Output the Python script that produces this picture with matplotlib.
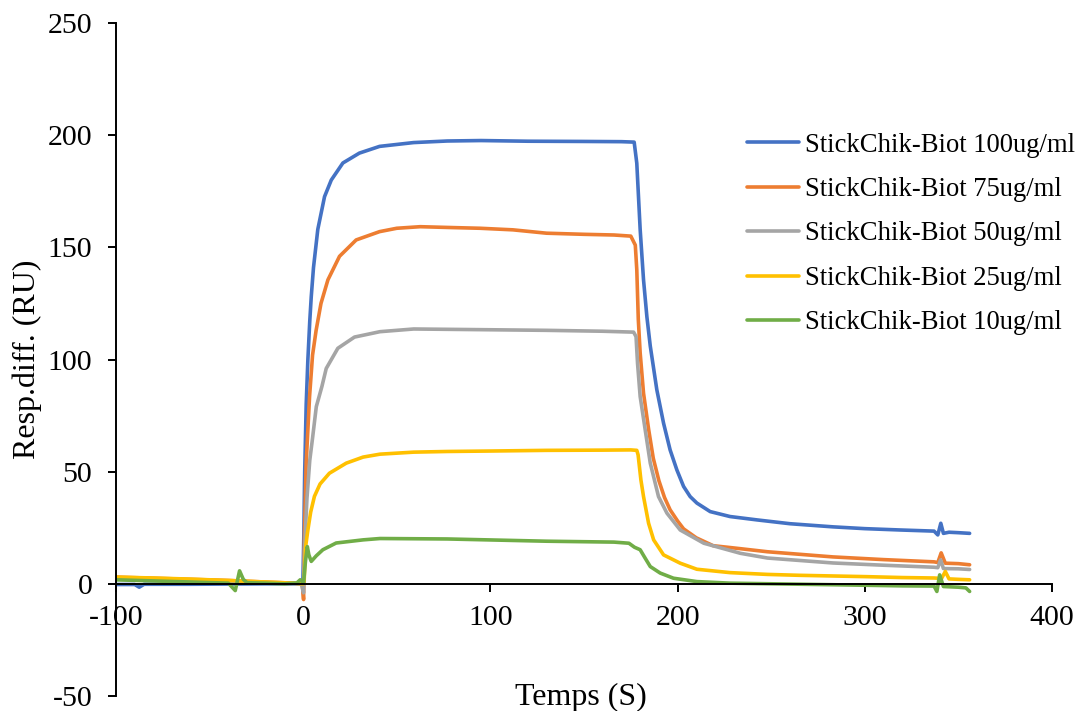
import matplotlib
matplotlib.use("Agg")
import matplotlib.pyplot as plt

# ---------------- data ----------------
labels = ["StickChik-Biot 100ug/ml", "StickChik-Biot 75ug/ml", "StickChik-Biot 50ug/ml",
          "StickChik-Biot 25ug/ml", "StickChik-Biot 10ug/ml"]

t_100 = [-100, -90, -87.6, -85, -60, -40, -20, -5, -0.2, 0.3, 0.8, 1.6, 2.5, 3.5, 4.3, 5.5, 7.8,
         11.4, 15, 21.2, 30, 40.8, 59, 77, 95, 120, 150, 170, 176.8, 178.2, 180, 181.8, 183.6,
         185.4, 188.9, 192.5, 196, 199.6, 203.2, 206.7, 210.3, 217.4, 228, 242.4, 260, 283, 300,
         319, 337, 339, 340.6, 342, 345, 350, 356]
y_100 = [-0.3, -0.3, -1.5, -0.2, -0.2, -0.1, 0, 0, 0, 20, 50, 80, 100, 117, 128, 141, 158,
         172.6, 180, 187.6, 192, 195, 196.7, 197.4, 197.6, 197.3, 197.2, 197.1, 196.9, 187.5,
         158, 135.5, 119, 106, 86.5, 71.6, 59.7, 50.8, 43.4, 38.9, 36, 32.2, 30, 28.5, 26.8, 25.4,
         24.6, 24, 23.5, 21.8, 27, 22.5, 23, 22.8, 22.5]

t_75 = [-100, -80, -60, -40, -20, -5, -0.5, 0.2, 0.7, 1.6, 3.4, 5, 6.9, 9.5, 13.2, 19.4, 28.3,
        40.8, 50, 62.5, 80, 94.5, 112, 130, 150, 166, 175, 177.4, 178.2, 179, 180, 181.8, 184.5,
        187, 190, 193, 196, 200, 203.2, 210, 219, 230, 248, 283, 310, 337, 339, 340.8, 343, 350,
        356]
y_75 = [3, 2.5, 2, 1.5, 0.8, 0.3, 0, -7, 24, 54, 83.5, 102, 113, 125, 135.5, 146, 153.3, 157,
        158.5, 159.2, 158.8, 158.5, 157.8, 156.3, 155.8, 155.5, 155, 151, 140, 118, 103, 85, 69,
        56, 46, 38.5, 33, 28, 24.5, 20.5, 17, 16, 14.3, 12, 10.8, 9.8, 9.5, 13.8, 9.2, 9, 8.5]

t_50 = [-100, -60, -20, -1, 0.2, 0.7, 2, 3.5, 5, 7, 10, 12.3, 18.5, 27.4, 41, 59, 95, 130, 160,
        176.5, 177.8, 178.6, 180, 182.7, 185.4, 189.8, 194.3, 201.4, 214, 233.6, 248, 283, 310,
        337, 339, 340.5, 342, 350, 356]
y_50 = [2, 1.5, 0.5, 0, -4, 15, 38, 55, 65, 79, 88, 96, 105, 110, 112.4, 113.6, 113.3, 113,
        112.6, 112.2, 110.2, 98.3, 83.5, 68.6, 53.8, 38.9, 31.5, 24, 18.1, 13.6, 11.5, 9.3, 8.3,
        7.4, 7.2, 10.7, 6.8, 6.7, 6.4]

t_25 = [-100, -80, -60, -40, -20, -5, 0, 0.5, 1.2, 2.5, 4, 6, 9, 14, 23, 32, 41, 59, 77, 100,
        130, 160, 175, 178.2, 178.9, 180.4, 181.8, 184.5, 187.2, 192.5, 201.4, 210.3, 228, 248,
        265, 301, 320, 337, 341, 343, 345, 350, 356]
y_25 = [3, 2.6, 2.1, 1.5, 0.8, 0.3, 0, 1, 16, 24, 32, 39, 44.5, 49.3, 53.8, 56.5, 57.8, 58.7,
        59, 59.2, 59.5, 59.6, 59.7, 59.5, 57.5, 46.3, 38.9, 27, 19.6, 12.9, 9.2, 6.5, 5.0, 4.2,
        3.8, 3.2, 2.8, 2.6, 2.4, 5.5, 2.2, 2, 1.8]

t_10 = [-100, -80, -60, -40, -36.3, -34, -32, -30, -20, -10, -3.4, -1.6, 0.2, 1.2, 2.2, 3, 4.3,
        7, 10.5, 17.6, 32, 41, 77, 130, 166, 174, 177, 180, 182.7, 185.4, 190.7, 197.8, 210.3,
        228, 283, 320, 337, 338.5, 340, 342, 350, 354, 356]
y_10 = [1.8, 1.3, 0.8, 0.3, -3, 5.8, 2, 0.5, 0.3, 0, 0.4, 1.8, 0.4, 10, 16.6, 13, 10, 12.5,
        15.2, 18.2, 19.6, 20.2, 20, 19, 18.6, 18.1, 16.3, 15.2, 11.4, 7.7, 4.8, 2.5, 1.0, 0.3,
        -0.4, -0.9, -1.0, -3.4, 4, -1.2, -1.5, -1.8, -3.4]

x_ticks = [-100, 0, 100, 200, 300, 400]
y_ticks = [-50, 0, 50, 100, 150, 200, 250]
colors = ["#4472C4", "#ED7D31", "#A5A5A5", "#FFC000", "#70AD47"]

# ---------------- figure ----------------
plt.rcParams['font.family'] = ['Liberation Serif', 'DejaVu Serif']
plt.rcParams['axes.unicode_minus'] = False

fig = plt.figure(figsize=(10.82, 7.11), dpi=100)
ax = fig.add_axes([116 / 1082, 15 / 711, 936 / 1082, 673 / 711])

series = [(t_100, y_100), (t_75, y_75), (t_50, y_50), (t_25, y_25), (t_10, y_10)]
for (t, y), c, lab in zip(series, colors, labels):
    ax.plot(t, y, color=c, lw=2.6, label=lab, solid_capstyle='round', solid_joinstyle='round')

ax.set_xlim(-100, 400)
ax.set_ylim(-50, 250)
ax.set_xticks(x_ticks)
ax.set_yticks(y_ticks)

for s in ['top', 'right']:
    ax.spines[s].set_visible(False)
ax.spines['bottom'].set_position(('data', 0))
for s in ['bottom', 'left']:
    ax.spines[s].set_linewidth(1.4)
    ax.spines[s].set_color('black')

ax.tick_params(axis='both', direction='out', length=6, width=1.4, labelsize=21.5, colors='black')
ax.tick_params(axis='y', pad=11)
ax.tick_params(axis='x', pad=9)

ax.set_xlabel("Temps (S)", fontsize=23)
ax.xaxis.set_label_coords(0.497, -0.0134)
ax.xaxis.label.set_verticalalignment('baseline')
ax.set_ylabel("Resp.diff. (RU)", fontsize=23)
ax.yaxis.set_label_coords(-0.079, 0.5)

leg = ax.legend(loc='upper left', bbox_to_anchor=(736 / 1082, 1 - 122 / 711),
                bbox_transform=fig.transFigure, frameon=False, fontsize=19.15,
                handlelength=1.98, handletextpad=0.23, labelspacing=0.73, borderaxespad=0)

fig.savefig("out.png", dpi=100)
